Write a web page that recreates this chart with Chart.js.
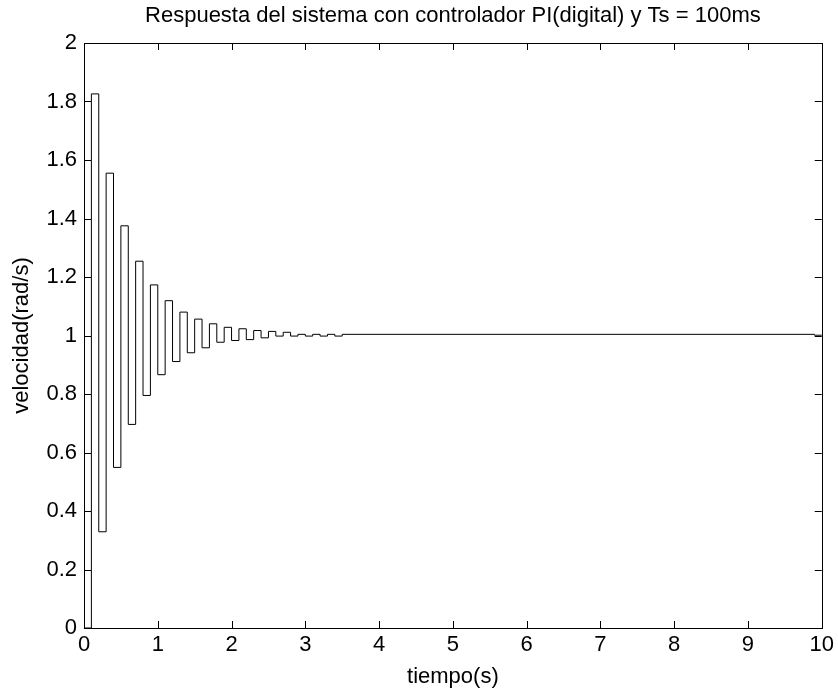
<!DOCTYPE html>
<html>
<head>
<meta charset="utf-8">
<script src="https://cdn.jsdelivr.net/npm/chart.js@4.4.1/dist/chart.umd.min.js"></script>
<style>
  body { margin: 0; background: #fff; }
</style>
</head>
<body>
<canvas id="myChart" width="838" height="690"></canvas>
<script>
const tiempo = [0, 0.1, 0.2, 0.3, 0.4, 0.5, 0.6, 0.7, 0.8, 0.9,
  1.0, 1.1, 1.2, 1.3, 1.4, 1.5, 1.6, 1.7, 1.8, 1.9,
  2.0, 2.1, 2.2, 2.3, 2.4, 2.5, 2.6, 2.7, 2.8, 2.9,
  3.0, 3.1, 3.2, 3.3, 3.4, 3.5, 9.9, 10]

const velocidad = [0, 1.826, 0.329, 1.555, 0.549, 1.375, 0.696, 1.254, 0.795, 1.173,
  0.866, 1.119, 0.911, 1.080, 0.941, 1.056, 0.958, 1.040, 0.977, 1.028,
  0.983, 1.023, 0.986, 1.017, 0.992, 1.014, 0.998, 1.011, 0.998, 1.004,
  0.998, 1.004, 0.998, 1.004, 0.998, 1.004, 1.001, 1.001]

const xTicks = [0, 1, 2, 3, 4, 5, 6, 7, 8, 9, 10]
const yTicks = [0, 0.2, 0.4, 0.6, 0.8, 1, 1.2, 1.4, 1.6, 1.8, 2]

const titulo = 'Respuesta del sistema con controlador PI(digital) y Ts = 100ms'
const etiquetaX = 'tiempo(s)'
const etiquetaY = 'velocidad(rad/s)'

const FONT = 'Liberation Sans, Arial, Helvetica, sans-serif'
const FSIZE = 22

const ctx = document.getElementById('myChart').getContext('2d')

// marco tipo matlab: caja, ticks hacia dentro y textos
const matlabFrame = {
  id: 'matlabFrame',
  afterDraw(chart) {
    const { ctx, chartArea: a, scales } = chart
    const tl = 7
    ctx.save()
    ctx.strokeStyle = '#000'
    ctx.lineWidth = 1
    ctx.beginPath()
    xTicks.forEach(v => {
      const x = Math.round(scales.x.getPixelForValue(v)) + 0.5
      ctx.moveTo(x, a.bottom); ctx.lineTo(x, a.bottom - tl)
      ctx.moveTo(x, a.top); ctx.lineTo(x, a.top + tl)
    })
    yTicks.forEach(v => {
      const y = Math.round(scales.y.getPixelForValue(v)) + 0.5
      ctx.moveTo(a.left, y); ctx.lineTo(a.left + tl, y)
      ctx.moveTo(a.right, y); ctx.lineTo(a.right - tl, y)
    })
    ctx.stroke()
    ctx.strokeRect(Math.round(a.left) + 0.5, Math.round(a.top) + 0.5,
      Math.round(a.right - a.left), Math.round(a.bottom - a.top))

    ctx.fillStyle = '#000'
    ctx.font = FSIZE + 'px ' + FONT
    ctx.textAlign = 'center'
    ctx.textBaseline = 'middle'
    const cx = (a.left + a.right) / 2
    ctx.fillText(titulo, cx, 16)
    ctx.fillText(etiquetaX, cx, 677)
    ctx.translate(22, (a.top + a.bottom) / 2)
    ctx.rotate(-Math.PI / 2)
    ctx.fillText(etiquetaY, 0, 0)
    ctx.restore()
  }
}

const data = {
  datasets: [
    {
      label: 'velocidad',
      data: tiempo.map((t, i) => ({ x: t, y: velocidad[i] })),
      borderColor: '#000',
      borderWidth: 1,
      stepped: 'before',
      pointRadius: 0,
      fill: false,
      clip: 2
    }
  ]
}

const config = {
  type: 'line',
  data: data,
  options: {
    responsive: false,
    animation: false,
    layout: { padding: { left: 0, right: 15, top: 43, bottom: 0 } },
    plugins: {
      legend: { display: false },
      title: { display: false },
      tooltip: { enabled: false }
    },
    scales: {
      x: {
        type: 'linear',
        position: 'bottom',
        min: 0,
        max: 10,
        afterFit: s => { s.height = 62 },
        afterBuildTicks: s => { s.ticks = xTicks.map(v => ({ value: v })) },
        grid: { display: false, drawTicks: false },
        border: { display: false },
        ticks: {
          color: '#000',
          padding: 4,
          maxRotation: 0,
          autoSkip: false,
          font: { family: FONT, size: FSIZE },
          callback: v => String(v)
        }
      },
      y: {
        type: 'linear',
        position: 'left',
        min: 0,
        max: 2,
        afterFit: s => { s.width = 84 },
        afterBuildTicks: s => { s.ticks = yTicks.map(v => ({ value: v })) },
        grid: { display: false, drawTicks: false },
        border: { display: false },
        ticks: {
          color: '#000',
          padding: 7,
          autoSkip: false,
          font: { family: FONT, size: FSIZE },
          callback: v => String(+v.toFixed(1))
        }
      }
    }
  },
  plugins: [matlabFrame]
}

const myChart = new Chart(ctx, config)
</script>
</body>
</html>
